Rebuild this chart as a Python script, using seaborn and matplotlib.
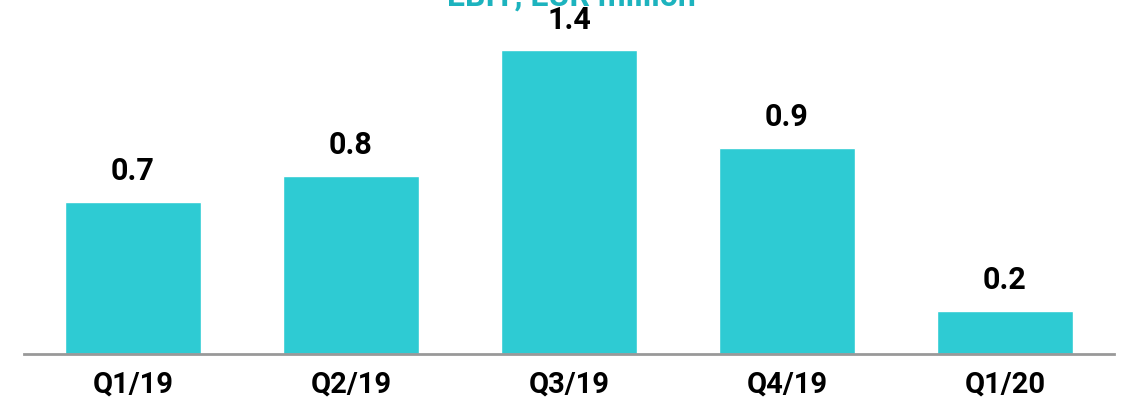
import pandas as pd
import matplotlib.pyplot as plt
import seaborn as sns

sns.set_style("white")
plt.rcParams['font.family'] = ['Roboto', 'DejaVu Sans']

# data
quarters = ['Q1/19', 'Q2/19', 'Q3/19', 'Q4/19', 'Q1/20']
ebit = [0.70, 0.82, 1.40, 0.95, 0.20]
labels = ['0.7', '0.8', '1.4', '0.9', '0.2']

df = pd.DataFrame({'quarter': quarters, 'ebit': ebit})

fig = plt.figure(figsize=(11.29, 4.01), dpi=100)
ax = fig.add_axes([24 / 1129, 47 / 401, 1090 / 1129, 354 / 401])

sns.barplot(data=df, x='quarter', y='ebit', color='#2ECBD3',
            saturation=1, width=0.624, ax=ax)

for i, (v, lab) in enumerate(zip(ebit, labels)):
    ax.text(i, v + 0.1, lab, ha='center', va='baseline',
            fontsize=22, fontweight='bold', color='black')

ax.set_xlim(-0.5, 4.5)
ax.set_ylim(0, 354 / 217)
ax.set_xlabel('')
ax.set_ylabel('')
ax.set_yticks([])
ax.tick_params(axis='x', length=0, pad=12, labelsize=21, labelcolor='black')
for t in ax.get_xticklabels():
    t.set_fontweight('bold')
for s in ['top', 'right', 'left']:
    ax.spines[s].set_visible(False)
ax.spines['bottom'].set_color('#999999')
ax.spines['bottom'].set_linewidth(2)

# title sits mostly above the canvas, as in the source image
fig.text(0.506, 1 - 6 / 401, 'EBIT, EUR million', ha='center', va='baseline',
         fontsize=23, fontweight='bold', color='#1DB3BE')

fig.savefig('out.png', dpi=100)
